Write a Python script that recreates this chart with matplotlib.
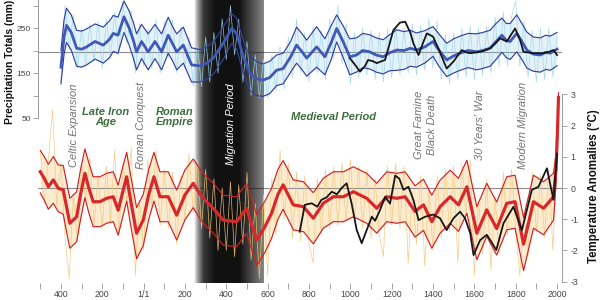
import numpy as np
import matplotlib
matplotlib.use("Agg")
import matplotlib.pyplot as plt
import matplotlib.transforms as mtransforms

plt.rcParams['font.family'] = ['Liberation Sans', 'DejaVu Sans']

# ---------------- data ----------------
# Precipitation (mm): smoothed reconstruction and its uncertainty half-width
prec_years = [-400, -385, -373, -350, -324, -300, -276, -235, -195, -165,
              -147, -124, -95, -70, -50, -34, -10, 22, 55, 87,
              119, 140, 160, 192, 232, 273, 305, 337, 385, 426,
              450, 482, 515, 545, 577, 610, 643, 675, 710, 740,
              765, 789, 837, 877, 905, 934, 965, 997, 1030, 1060,
              1094, 1125, 1159, 1190, 1225, 1260, 1290, 1320, 1360, 1400,
              1430, 1466, 1500, 1531, 1570, 1611, 1640, 1676, 1705, 1733,
              1755, 1773, 1805, 1830, 1854, 1885, 1919, 1945, 1967, 2000]
prec_mean = [163, 230, 256, 240, 205, 203, 208, 220, 212, 225,
             238, 234, 275, 250, 223, 197, 220, 197, 220, 197,
             234, 215, 197, 212, 168, 166, 172, 183, 216, 249,
             238, 186, 149, 138, 134, 140, 156, 160, 185, 212,
             198, 183, 208, 186, 215, 249, 220, 186, 190, 200,
             197, 190, 186, 195, 201, 200, 205, 201, 208, 220,
             200, 179, 188, 194, 200, 197, 200, 205, 220, 234,
             222, 220, 238, 220, 201, 192, 190, 196, 194, 203]
prec_err = [37, 38, 38, 39, 40, 40, 40, 39, 40, 41,
            40, 40, 35, 38, 40, 40, 38, 40, 38, 40,
            40, 38, 40, 40, 38, 36, 36, 36, 36, 33,
            34, 36, 38, 38, 36, 36, 34, 34, 34, 40,
            40, 40, 45, 40, 38, 30, 35, 40, 38, 38,
            38, 38, 38, 40, 45, 42, 40, 38, 36, 33,
            36, 37, 38, 38, 38, 40, 40, 40, 40, 38,
            38, 40, 41, 40, 40, 38, 38, 38, 38, 37]
prec_annual = [130, 300, 200, 280, 160, 250, 170, 260, 175, 265,
               160, 270, 185, 285, 190, 310, 215, 290, 150, 260,
               165, 250, 160, 270, 150, 265, 185, 270, 150, 255,
               160, 230, 120, 215, 120, 230, 130, 240, 150, 270,
               180, 300, 190, 270, 130, 220, 100, 190, 95, 180,
               95, 190, 110, 210, 115, 230, 140, 270, 150, 240,
               130, 255, 150, 245, 135, 270, 180, 300, 170, 260,
               125, 240, 140, 250, 145, 245, 135, 240, 130, 250,
               140, 255, 145, 250, 150, 260, 145, 255, 155, 270,
               160, 265, 135, 235, 125, 240, 135, 250, 140, 255,
               135, 250, 145, 255, 150, 275, 165, 285, 165, 275,
               310, 165, 265, 140, 245, 130, 250, 135, 250, 140,
               230]
prec_annual_years = np.arange(-400, 2001, 20)
# second (black) precipitation record
pblack_years = [997, 1020, 1047, 1070, 1086, 1110, 1128, 1150, 1168, 1190,
                1208, 1240, 1265, 1290, 1305, 1330, 1350, 1370, 1400, 1430,
                1466, 1498, 1539, 1560, 1579, 1627, 1650, 1676, 1700, 1725,
                1757, 1797, 1820, 1838, 1886, 1934, 1960, 1983, 2000]
pblack_vals = [183, 170, 153, 165, 179, 176, 172, 176, 179, 215,
               245, 262, 264, 240, 216, 190, 215, 238, 231, 200,
               160, 175, 201, 196, 194, 197, 200, 205, 215, 227,
               220, 249, 225, 197, 194, 194, 197, 201, 190]
prec_ref = 197

# Temperature anomalies (deg C)
temp_years = [-500, -480, -461, -437, -413, -389, -370, -357, -324, -305,
              -284, -265, -244, -211, -179, -147, -123, -100, -82, -60,
              -34, -2, 25, 50, 79, 119, 160, 200, 240, 273,
              305, 337, 385, 450, 498, 547, 587, 619, 650, 675,
              724, 773, 821, 869, 918, 966, 1015, 1079, 1128, 1176,
              1225, 1265, 1313, 1354, 1394, 1434, 1483, 1523, 1564, 1612,
              1660, 1708, 1757, 1797, 1838, 1886, 1935, 1983, 1995, 2002,
              2007]
temp_mean = [0.52, 0.30, 0.04, 0.26, -0.01, -0.06, -0.70, -1.13, -0.92, -0.20,
             0.47, 0.00, -0.44, -0.44, -0.33, -0.28, -0.71, -0.10, 0.36, -0.50,
             -1.45, -1.03, -0.20, 0.36, -0.28, -0.28, -0.87, -0.22, 0.15, -0.20,
             -0.45, -0.65, -1.03, -1.08, -0.65, -1.67, -1.24, -0.81, -0.20, 0.10,
             -0.54, -0.60, -0.97, -0.49, -0.28, -0.28, -0.12, -0.33, -0.65, -0.28,
             -0.33, -0.28, -0.75, -0.54, -1.08, -0.60, -0.28, -0.54, 0.04, -1.45,
             -0.70, -1.30, -0.49, -0.44, -1.80, -0.44, -0.65, -0.28, 0.60, 1.80,
             2.90]
temp_err = [0.68, 0.70, 0.72, 0.75, 0.75, 0.78, 0.80, 0.80, 0.80, 0.80,
            0.78, 0.80, 0.80, 0.80, 0.80, 0.80, 0.80, 0.80, 0.78, 0.80,
            0.82, 0.82, 0.80, 0.78, 0.80, 0.80, 0.80, 0.80, 0.78, 0.80,
            0.80, 0.80, 0.80, 0.80, 0.80, 0.82, 0.82, 0.80, 0.80, 0.78,
            0.80, 0.80, 0.82, 0.80, 0.80, 0.80, 0.80, 0.80, 0.80, 0.80,
            0.80, 0.80, 0.82, 0.82, 0.85, 0.85, 0.85, 0.85, 0.85, 0.85,
            0.85, 0.85, 0.85, 0.85, 0.85, 0.85, 0.85, 0.75, 0.50, 0.30,
            0.15]
temp_annual = [1.2, -0.5, 1.0, 2.5, -0.6, 0.8, -1.6, -2.9, -0.2, -1.7,
               0.8, -0.4, 1.0, -1.2, 0.4, -1.3, 0.7, -1.1, 1.2, -1.5,
               0.8, -0.5, 1.3, -2.8, -0.4, -2.0, 0.9, -0.6, 1.2, -1.2,
               0.6, -1.3, 0.5, -1.8, 0.4, -1.0, 1.1, -0.8, 0.9, -1.3,
               0.6, -1.6, 0.3, -2.0, 0.0, -2.0, 0.2, -2.2, 0.1, -1.8,
               0.5, -2.3, -0.5, -2.9, -0.2, -2.8, 0.3, -1.5, 1.2, -1.0,
               0.8, -1.6, 0.5, -1.7, 0.4, -1.8, -2.4, 0.3, -1.5, 0.6,
               -1.3, 0.7, -1.2, 0.8, -1.1, 0.9, -1.0, 0.7, -1.3, 0.6,
               -1.6, 0.3, -1.5, -2.2, 0.7, -1.2, 0.8, -1.3, 0.7, -2.4,
               -0.1, -1.8, 0.4, -2.5, 0.0, -2.0, 0.4, -1.6, 0.6, -1.4,
               0.7, -2.4, 0.8, -0.9, 0.9, -2.8, -0.4, -2.1, 0.3, -2.6,
               -0.3, -2.1, 0.5, -1.5, 0.6, -1.4, -2.8, -0.8, -2.2, 0.5,
               -1.4, 0.4, -1.6, 0.6, -2.0, 1.2]
temp_annual_years = np.arange(-500, 2001, 20)
tblack_years = [755, 780, 813, 840, 860, 885, 910, 935, 958, 982,
                1006, 1031, 1055, 1079, 1104, 1120, 1144, 1168, 1192, 1217,
                1237, 1257, 1281, 1305, 1330, 1362, 1400, 1434, 1466, 1499,
                1531, 1555, 1580, 1596, 1628, 1660, 1680, 1706, 1741, 1789,
                1830, 1878, 1910, 1951, 1983, 2000]
tblack_vals = [-1.40, -0.54, -0.49, -0.60, -0.38, -0.30, -0.12, -0.20, 0.00, 0.15,
               -0.49, -1.35, -1.77, -1.35, -0.92, -1.05, -0.70, -0.28, -0.50, 0.40,
               0.30, -0.06, 0.04, -0.38, -1.03, -0.92, -0.85, -0.97, -1.35, -0.97,
               -0.76, -0.97, -1.45, -2.15, -1.67, -1.50, -1.70, -1.99, -1.13, -0.60,
               -1.35, -0.06, 0.04, 0.63, -0.38, 1.10]
temp_ref = 0

# axis ticks
x_ticks = list(range(-500, 2001, 100))
x_ticklabels = ['' if t % 200 else ('1/1' if t == 0 else str(abs(t))) for t in x_ticks]
temp_ticks = [-3, -2, -1, 0, 1, 2, 3]
temp_ticklabels = ['-3', '-2', '-1', '0', '1', '2', '3']
prec_ticks = [50, 100, 150, 200, 250, 300]
prec_ticklabels = ['50', '', '150', '', '250', '']

# annotations
migration_period = (262, 578)
event_names = ['Celtic Expansion', 'Roman Conquest', 'Great Famine',
               'Black Death', "30 Years' War", 'Modern Migration']
event_years = [-337, -13, 1333, 1396, 1628, 1836]
era_names = ['Late Iron\nAge', 'Roman\nEmpire', 'Medieval Period']
era_years = [-182, 152, 917]

# ---------------- figure ----------------
fig = plt.figure(figsize=(6, 3), dpi=100)
ax = fig.add_axes([38 / 600, 17 / 300, 524 / 600, 283 / 300])
ax.patch.set_alpha(0)
XLIM = (-511, 2024)
YLIM = (-3.045, 6.026)

# precipitation plotted through an affine transform onto the shared axes
P_SCALE = 0.45 / 31.2
P_OFF = 47.5 / 31.2
ptrans = mtransforms.Affine2D().scale(1, P_SCALE).translate(0, P_OFF) + ax.transData


def t2p(t):
    return (np.asarray(t) - P_OFF) / P_SCALE


def p2t(p):
    return np.asarray(p) * P_SCALE + P_OFF


pm = np.array(prec_mean, float)
pe = np.array(prec_err, float)
tm = np.array(temp_mean, float)
te = np.array(temp_err, float)

# fills
ax.fill_between(prec_years, pm - pe, pm + pe, color='#e3f1f8', lw=0, zorder=1,
                transform=ptrans)
ax.fill_between(temp_years, tm - te, tm + te, color='#fdebcf', lw=0, zorder=1)

# reference lines
ax.plot(XLIM, [prec_ref, prec_ref], color='#8c8c8c', lw=0.8, zorder=1.5,
        transform=ptrans)
ax.axhline(temp_ref, color='#8c8c8c', lw=0.8, zorder=1.5)

# migration period band (gradient)
u = np.linspace(0, 1, 300)
alpha = np.interp(u, [0, 0.05, 0.14, 0.3, 0.65, 0.85, 1.0],
                  [0.0, 0.4, 0.85, 1.0, 1.0, 0.72, 0.5])
img = np.zeros((1, u.size, 4))
img[..., :3] = 0.07
img[0, :, 3] = alpha
ax.imshow(img, extent=(migration_period[0] - 20, migration_period[1], YLIM[0], YLIM[1]),
          aspect='auto', zorder=2, interpolation='bilinear')

# annual spikes
ax.plot(prec_annual_years, prec_annual, color='#9dd6ec', lw=0.5, alpha=0.9,
        zorder=2.5, transform=ptrans)
ax.plot(temp_annual_years, temp_annual, color='#f0c878', lw=0.5, alpha=0.9,
        zorder=2.5)

# envelopes
ax.plot(prec_years, pm + pe, color='#33409e', lw=0.85, zorder=3, transform=ptrans)
ax.plot(prec_years, pm - pe, color='#33409e', lw=0.85, zorder=3, transform=ptrans)
ax.plot(temp_years, tm + te, color='#cf2027', lw=0.85, zorder=3)
ax.plot(temp_years, tm - te, color='#cf2027', lw=0.85, zorder=3)

# means
ax.plot(prec_years, pm, color='#4058b8', lw=2.0, zorder=3.5, transform=ptrans,
        solid_joinstyle='round')
ax.plot(temp_years, tm, color='#d7282c', lw=2.3, zorder=3.5, solid_joinstyle='round')

# black records
ax.plot(pblack_years, pblack_vals, color='#161616', lw=1.3, zorder=4,
        transform=ptrans, solid_joinstyle='round')
ax.plot(tblack_years, tblack_vals, color='#161616', lw=1.3, zorder=4,
        solid_joinstyle='round')

ax.set_xlim(*XLIM)
ax.set_ylim(*YLIM)

# spines / ticks
for s in ['top', 'bottom', 'left']:
    ax.spines[s].set_visible(False)
ax.spines['right'].set_bounds(-3, 3)
ax.spines['right'].set_color('#9a9a9a')
ax.spines['right'].set_linewidth(0.7)
ax.yaxis.tick_right()
ax.set_yticks(temp_ticks, temp_ticklabels)
ax.tick_params(axis='y', direction='out', length=3.5, width=0.6, color='#9a9a9a',
               labelsize=6.3, labelcolor='#444444', pad=2.5)
ax.set_xticks(x_ticks, x_ticklabels)
ax.tick_params(axis='x', direction='out', length=4, width=0.6, color='#9a9a9a',
               labelsize=6.3, labelcolor='#444444', pad=0.8)

sec = ax.secondary_yaxis('left', functions=(t2p, p2t))
sec.set_yticks(prec_ticks, prec_ticklabels)
sec.spines['left'].set_bounds(50, 320)
sec.spines['left'].set_color('#9a9a9a')
sec.spines['left'].set_linewidth(0.7)
sec.tick_params(direction='out', length=3.5, width=0.6, color='#9a9a9a',
                labelsize=6.0, labelcolor='#444444', pad=1.5)

# texts
yax = ax.get_xaxis_transform()
for name, yr in zip(event_names, event_years):
    ax.text(yr, 0.558, name, rotation=90, ha='center', va='center', transform=yax,
            fontsize=8, style='italic', color='#737373', zorder=5)
ax.text(423, 0.562, 'Migration Period', rotation=90, ha='center', va='center',
        transform=yax, fontsize=8, style='italic', color='white', zorder=5)
for name, yr in zip(era_names, era_years):
    ax.text(yr, 0.587, name, ha='center', va='center', transform=yax,
            fontsize=8, style='italic', fontweight='bold', color='#3e6e3e',
            linespacing=1.05, zorder=5)

fig.text(10 / 600, 1 - 62 / 300, 'Precipitation Totals (mm)', rotation=90,
         ha='center', va='center', fontsize=7.5, fontweight='bold', color='#111111')
fig.text(594 / 600, 1 - 186.5 / 300, 'Temperature Anomalies (°C)', rotation=90,
         ha='center', va='center', fontsize=8.3, fontweight='bold', color='#111111')

fig.savefig('out.png', dpi=100)
